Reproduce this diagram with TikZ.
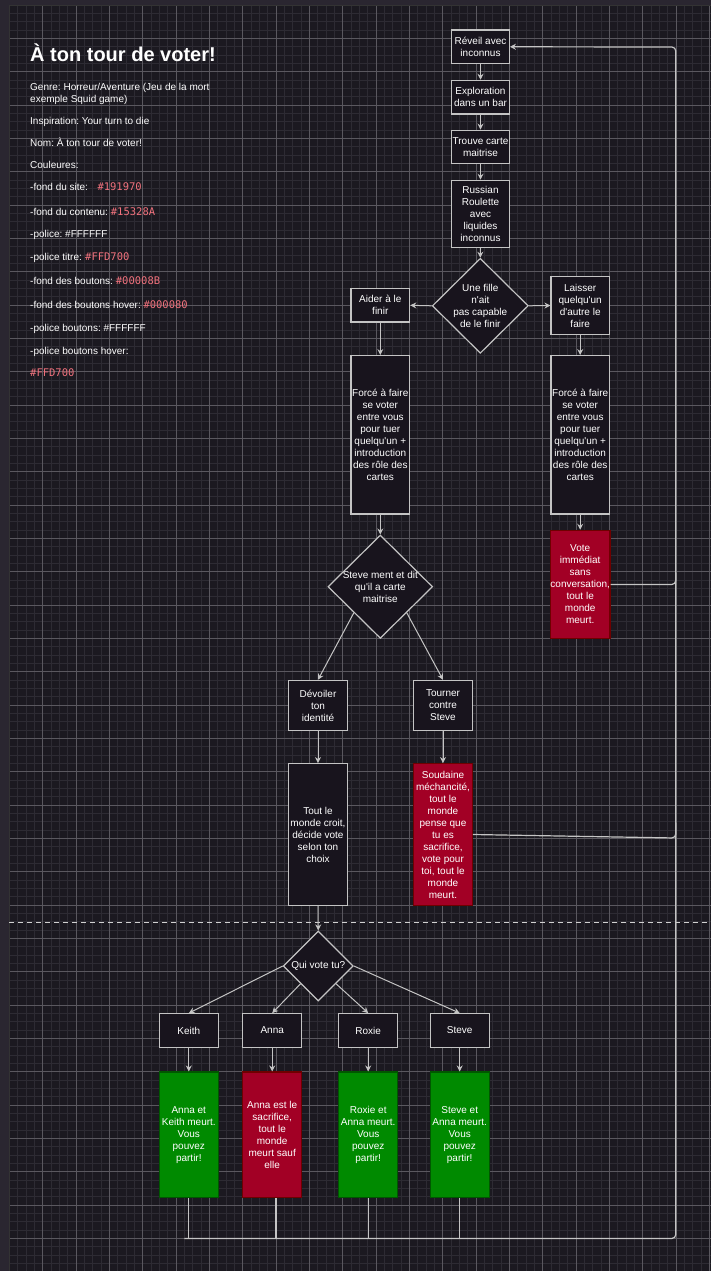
\documentclass[tikz,border=0pt]{standalone}
\usepackage{fontspec}
\setmainfont{Liberation Sans}[Ligatures=TeXOff]
\setmonofont{DejaVu Sans Mono}
\usetikzlibrary{shapes.geometric, arrows.meta, calc}
\definecolor{frame}{HTML}{2A2630}
\definecolor{canvas}{HTML}{1B1920}
\definecolor{gminor}{HTML}{2D2B33}
\definecolor{gmajor}{HTML}{5A585F}
\definecolor{nodefill}{HTML}{18141D}
\definecolor{stroke}{HTML}{C4C4C4}
\definecolor{redfill}{HTML}{A20025}
\definecolor{redstroke}{HTML}{6F0000}
\definecolor{greenfill}{HTML}{008A00}
\definecolor{greenstroke}{HTML}{005700}
\definecolor{codecol}{HTML}{F2727D}
\frenchspacing
\begin{document}
\begin{tikzpicture}[x=1pt,y=-1pt,
  box/.style 2 args={draw=stroke, line width=1.2pt, fill=nodefill, text=white,
    font=\fontsize{10}{12}\selectfont, align=center, inner sep=0pt,
    minimum width=#1, minimum height=#2},
  redbox/.style={draw=redstroke, fill=redfill},
  greenbox/.style={draw=greenstroke, fill=greenfill},
  dia/.style 2 args={diamond, draw=stroke, line width=1.2pt, fill=nodefill,
    inner sep=0pt, minimum width=#1, minimum height=#2},
  dtxt/.style={text=white, font=\fontsize{10}{12}\selectfont, align=center, inner sep=0pt},
  edge/.style={draw=stroke, line width=1pt, -{Stealth[length=6pt,width=6pt,inset=2pt]}},
  loopline/.style={draw=stroke, line width=1.2pt, rounded corners=4pt},
  txt/.style={anchor=base west, inner sep=0pt, text=white, font=\fontsize{10}{12}\selectfont, align=left},
  code/.style={anchor=base west, inner sep=0pt, text=codecol, font=\fontsize{10.5}{12}\ttfamily},
]
\useasboundingbox (0,0) rectangle (711,1271);
% frame and canvas
\fill[frame] (0,0) rectangle (711,1271);
\fill[canvas] (9.3,5) rectangle (711,1271);
% grid
\foreach \i in {0,...,84} \draw[gminor, line width=0.8pt] ({9.33+\i*8.3333},5) -- ({9.33+\i*8.3333},1271);
\foreach \j in {0,...,151} \draw[gminor, line width=0.8pt] (9.3,{5+\j*8.3333}) -- (711,{5+\j*8.3333});
\foreach \i in {1,...,21} \draw[gmajor, line width=0.8pt] ({9.33+\i*33.333},5) -- ({9.33+\i*33.333},1271);
\foreach \j in {1,...,37} \draw[gmajor, line width=0.8pt] (9.3,{5+\j*33.333}) -- (711,{5+\j*33.333});
\draw[black!80, line width=0.8pt] (9.3,1271) -- (9.3,5) -- (711,5);

% left text panel
\node[anchor=base west, inner sep=0pt, text=white, font=\fontsize{20}{24}\bfseries\selectfont] (title) at (30,62) {À ton tour de voter!};
\node[txt] (genre) at (30,102.5) {Genre: Horreur/Aventure (Jeu de la mort\\exemple Squid game)};
\node[txt] (insp) at (30,124.2) {Inspiration: Your turn to die};
\node[txt] (nom) at (30,146.2) {Nom: À ton tour de voter!};
\node[txt] (coul) at (30,168.5) {Couleures:};
\node[txt] (l1) at (30,190.8) {-fond du site:};
\node[code] (c1) at (97.3,190.8) {\#191970};
\node[txt] (l2) at (30,215.2) {-fond du contenu:};
\node[code] (c2) at (110.7,215.2) {\#15328A};
\node[txt] (l3) at (30,237.8) {-police: \#FFFFFF};
\node[txt] (l4) at (30,260.8) {-police titre:};
\node[code] (c4) at (85,260.8) {\#FFD700};
\node[txt] (l5) at (30,284.8) {-fond des boutons:};
\node[code] (c5) at (115.7,284.8) {\#00008B};
\node[txt] (l6) at (30,308.8) {-fond des boutons hover:};
\node[code] (c6) at (143.3,308.8) {\#000080};
\node[txt] (l7) at (30,331.8) {-police boutons: \#FFFFFF};
\node[txt] (l8) at (30,354.5) {-police boutons hover:};
\node[code] (c8) at (30,376.2) {\#FFD700};

% top chain
\node[box={57.6pt}{33.7pt}] (reveil) at (480.5,46.8) {Réveil avec\\inconnus};
\node[box={57.6pt}{33.7pt}] (explo) at (480.5,97.2) {Exploration\\dans un bar};
\node[box={57.6pt}{33.7pt}] (trouve) at (480.5,147) {Trouve carte\\maitrise};
\node[box={57.6pt}{67pt}] (russian) at (480.5,213.8) {Russian\\Roulette\\avec\\liquides\\inconnus};
\node[dia={96pt}{95pt}, label={[dtxt]center:{Une fille\\n'ait\\pas capable\\de le finir}}] (d1) at (480.3,305.8) {};
\node[box={58.7pt}{33.3pt}] (aider) at (380.3,305.3) {Aider à le\\finir};
\node[box={58.3pt}{58.3pt}] (laisser) at (580.2,305.5) {Laisser\\quelqu'un\\d'autre le\\faire};
\node[box={58.7pt}{158.3pt}] (force1) at (380.3,434.8) {Forcé à faire\\se voter\\entre vous\\pour tuer\\quelqu'un +\\introduction\\des rôle des\\cartes};
\node[box={58.3pt}{158.3pt}] (force2) at (580.2,434.8) {Forcé à faire\\se voter\\entre vous\\pour tuer\\quelqu'un +\\introduction\\des rôle des\\cartes};
\node[dia={104.7pt}{103.3pt}, label={[dtxt]center:{Steve ment et dit\\qu'il a carte\\maitrise}}] (d2) at (380.3,586.7) {};
\node[box={58.3pt}{108.3pt}, redbox] (vote) at (580.2,584.5) {Vote\\immédiat\\sans\\conversation,\\tout le\\monde\\meurt.};
\node[box={58.7pt}{50.3pt}] (devoiler) at (318,705.5) {Dévoiler\\ton\\identité};
\node[box={58.7pt}{50.3pt}] (tourner) at (443,705.5) {Tourner\\contre\\Steve};
\node[box={58.7pt}{141.7pt}] (croit) at (318,834.5) {Tout le\\monde croit,\\décide vote\\selon ton\\choix};
\node[box={58.7pt}{141.7pt}, redbox] (soud) at (443,834.5) {Soudaine\\méchancité,\\tout le\\monde\\pense que\\tu es\\sacrifice,\\vote pour\\toi, tout le\\monde\\meurt.};

% separator
\draw[draw=white!82!black, line width=1.5pt, dash pattern=on 4.5pt off 4.5pt] (9.3,922.3) -- (711,922.3);

% vote section
\node[dia={70pt}{70pt}, label={[dtxt]center:{Qui vote tu?}}] (dq) at (318.3,966) {};
\node[box={59pt}{33.6pt}] (keith) at (188.8,1030.5) {Keith};
\node[box={59pt}{33.6pt}] (anna) at (272.2,1030.5) {Anna};
\node[box={59pt}{33.6pt}] (roxie) at (368.2,1030.5) {Roxie};
\node[box={59pt}{33.6pt}] (steve) at (459.7,1030.5) {Steve};
\node[box={59pt}{125.3pt}, greenbox] (r1) at (188.8,1134.7) {Anna et\\Keith meurt.\\Vous\\pouvez\\partir!};
\node[box={59pt}{125.3pt}, redbox] (r2) at (272.2,1134.7) {Anna est le\\sacrifice,\\tout le\\monde\\meurt sauf\\elle};
\node[box={59pt}{125.3pt}, greenbox] (r3) at (368.2,1134.7) {Roxie et\\Anna meurt.\\Vous\\pouvez\\partir!};
\node[box={59pt}{125.3pt}, greenbox] (r4) at (459.7,1134.7) {Steve et\\Anna meurt.\\Vous\\pouvez\\partir!};

% connectors
\draw[edge] (reveil) -- (explo);
\draw[edge] (explo) -- (trouve);
\draw[edge] (trouve) -- (russian);
\draw[edge] (russian) -- (d1.north);
\draw[edge] (d1.west) -- (aider.east);
\draw[edge] (d1.east) -- (laisser.west);
\draw[edge] (aider) -- (force1);
\draw[edge] (laisser) -- (force2);
\draw[edge] (force1) -- (d2.north);
\draw[edge] (force2) -- (vote);
\draw[edge] ($(d2.west)!0.5!(d2.south)$) -- (devoiler.north);
\draw[edge] ($(d2.east)!0.5!(d2.south)$) -- (tourner.north);
\draw[edge] (devoiler) -- (croit);
\draw[edge] (tourner) -- (soud);
\draw[edge] (croit.south) -- (dq.north);
\draw[edge] (dq.west) -- (keith.north);
\draw[edge] ($(dq.west)!0.5!(dq.south)$) -- (anna.north);
\draw[edge] ($(dq.east)!0.5!(dq.south)$) -- (roxie.north);
\draw[edge] (dq.east) -- (steve.north);
\draw[edge] (keith) -- (r1);
\draw[edge] (anna) -- (r2);
\draw[edge] (roxie) -- (r3);
\draw[edge] (steve) -- (r4);

% loop back
\coordinate (bot) at (184.3,1238.5);
\coordinate (loop) at (675.8,47);
\coordinate (a2) at ([xshift=3.8pt]r2.south);
\draw[loopline, -{Stealth[length=6pt,width=6pt,inset=2pt]}] (bot) -| (loop) -- (reveil.east);
\draw[loopline] (vote.east) -- (vote.east -| loop) -- ($(vote.east -| loop)+(0,-12)$);
\draw[loopline] (soud.east) -- ($(soud.east -| loop)+(0,3.5)$) -- ($(soud.east -| loop)+(0,-12)$);
\draw[loopline] (r1.south) -- (r1.south |- bot);
\draw[loopline] (a2) -- (a2 |- bot);
\draw[loopline] (r3.south) -- (r3.south |- bot);
\draw[loopline] (r4.south) -- (r4.south |- bot);
\end{tikzpicture}
\end{document}
